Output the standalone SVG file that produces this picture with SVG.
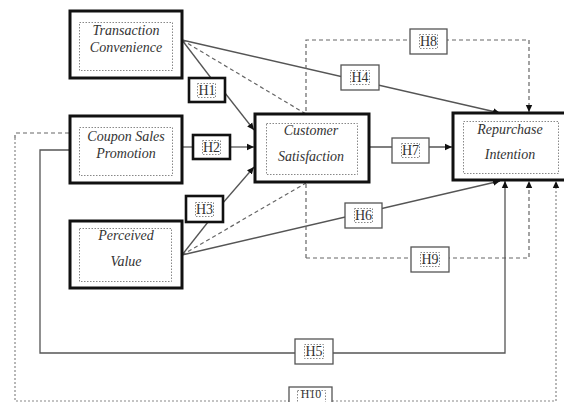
<svg xmlns="http://www.w3.org/2000/svg" width="564" height="402" viewBox="0 0 564 402">
<style>
.node{fill:#fff;stroke:#111;stroke-width:3}
.inner{fill:none;stroke:#888;stroke-width:1;stroke-dasharray:1.5,1.5}
.nt{font-family:"Liberation Serif",serif;font-style:italic;font-size:14px;fill:#333;text-anchor:middle}
.lb{fill:#fff;stroke:#555;stroke-width:1.3}
.lbk{fill:#fff;stroke:#111;stroke-width:2.6}
.lt{font-family:"Liberation Serif",serif;font-size:14px;fill:#333;text-anchor:middle}
.sl{fill:none;stroke:#555;stroke-width:1.3}
.dl{fill:none;stroke:#666;stroke-width:1.2;stroke-dasharray:4,3}
.ol{fill:none;stroke:#888;stroke-width:1.2;stroke-dasharray:2,2}
</style>
<defs>
<marker id="ar" markerWidth="8" markerHeight="8" refX="7" refY="4" orient="auto" markerUnits="userSpaceOnUse">
<path d="M0,0.8 L7,4 L0,7.2 Z" fill="#111"/>
</marker>
</defs>
<g id="connectors">
<line class="sl" x1="182" y1="40" x2="500" y2="113" marker-end="url(#ar)"/>
<line class="sl" x1="182" y1="40" x2="211" y2="78"/>
<line class="sl" x1="225" y1="93" x2="254" y2="130" marker-end="url(#ar)"/>
<line class="dl" x1="182" y1="40" x2="306" y2="114"/>
<line class="sl" x1="182" y1="147" x2="193" y2="147"/>
<line class="sl" x1="230" y1="147" x2="254" y2="147" marker-end="url(#ar)"/>
<line class="sl" x1="182" y1="255" x2="208" y2="222"/>
<line class="sl" x1="222" y1="204" x2="254" y2="167" marker-end="url(#ar)"/>
<line class="dl" x1="182" y1="255" x2="306" y2="183"/>
<line class="sl" x1="182" y1="255" x2="500" y2="181" marker-end="url(#ar)"/>
<line class="sl" x1="369" y1="147" x2="452" y2="147" marker-end="url(#ar)"/>
<polyline class="dl" points="306,258 306,40 529,40 529,112" marker-end="url(#ar)"/>
<polyline class="dl" points="306,258 529,258 529,181" marker-end="url(#ar)"/>
<polyline class="sl" points="69,150 40,150 40,353 505,353 505,181" marker-end="url(#ar)"/>
<polyline class="dl" points="69,133 15,133 15,138"/>
<polyline class="ol" points="15,138 15,401 556,401 556,181" marker-end="url(#ar)"/>
</g>
<g id="tc">
<rect class="node" x="70" y="11" width="112" height="67"/>
<rect class="inner" x="79.5" y="22.5" width="93" height="48"/>
<text class="nt" x="126" y="35">Transaction</text>
<text class="nt" x="126" y="52">Convenience</text>
</g>
<g id="csp">
<rect class="node" x="70" y="116" width="112" height="67"/>
<rect class="inner" x="79.5" y="127.5" width="93" height="48"/>
<text class="nt" x="126" y="141">Coupon Sales</text>
<text class="nt" x="126" y="158">Promotion</text>
</g>
<g id="pv">
<rect class="node" x="70" y="221" width="112" height="67"/>
<rect class="inner" x="79.5" y="228.5" width="92" height="53"/>
<text class="nt" x="126" y="240">Perceived</text>
<text class="nt" x="126" y="266">Value</text>
</g>
<g id="cs">
<rect class="node" x="255" y="114" width="114" height="68"/>
<rect class="inner" x="266.5" y="123.5" width="91" height="51"/>
<text class="nt" x="311" y="135">Customer</text>
<text class="nt" x="311" y="161">Satisfaction</text>
</g>
<g id="ri">
<rect class="node" x="453" y="113" width="114" height="67"/>
<rect class="inner" x="463.5" y="121.5" width="95" height="52"/>
<text class="nt" x="510" y="134">Repurchase</text>
<text class="nt" x="510" y="159">Intention</text>
</g>
<g id="h1">
<rect class="lbk" x="189" y="78" width="36" height="24"/>
<rect class="inner" x="197.5" y="83.5" width="18" height="14"/>
<text class="lt" x="207" y="95">H1</text>
</g>
<g id="h2">
<rect class="lbk" x="193" y="135" width="37" height="24"/>
<rect class="inner" x="202.5" y="140.5" width="18" height="14"/>
<text class="lt" x="211.5" y="152">H2</text>
</g>
<g id="h3">
<rect class="lbk" x="186" y="196" width="37" height="26"/>
<rect class="inner" x="195.5" y="202.5" width="18" height="14"/>
<text class="lt" x="204.5" y="214">H3</text>
</g>
<g id="h4">
<rect class="lb" x="341" y="65" width="38" height="25"/>
<rect class="inner" x="350.5" y="70.5" width="19" height="14"/>
<text class="lt" x="360" y="82">H4</text>
</g>
<g id="h5">
<rect class="lb" x="295" y="339" width="38" height="25"/>
<rect class="inner" x="304.5" y="344.5" width="19" height="14"/>
<text class="lt" x="314" y="356">H5</text>
</g>
<g id="h6">
<rect class="lb" x="345" y="203" width="37" height="25"/>
<rect class="inner" x="354.5" y="208.5" width="18" height="14"/>
<text class="lt" x="363.5" y="220">H6</text>
</g>
<g id="h7">
<rect class="lb" x="392" y="138" width="37" height="25"/>
<rect class="inner" x="401.5" y="143.5" width="18" height="14"/>
<text class="lt" x="410.5" y="155">H7</text>
</g>
<g id="h8">
<rect class="lb" x="410" y="29" width="37" height="25"/>
<rect class="inner" x="419.5" y="34.5" width="18" height="14"/>
<text class="lt" x="428.5" y="46">H8</text>
</g>
<g id="h9">
<rect class="lb" x="411" y="247" width="38" height="25"/>
<rect class="inner" x="420.5" y="252.5" width="19" height="14"/>
<text class="lt" x="430" y="264">H9</text>
</g>
<g id="h10">
<rect class="lb" x="289" y="387" width="43" height="25"/>
<rect class="inner" x="297.5" y="390.5" width="28" height="12"/>
<text class="lt" x="311" y="398" style="font-size:12px">H10</text>
</g>
</svg>
